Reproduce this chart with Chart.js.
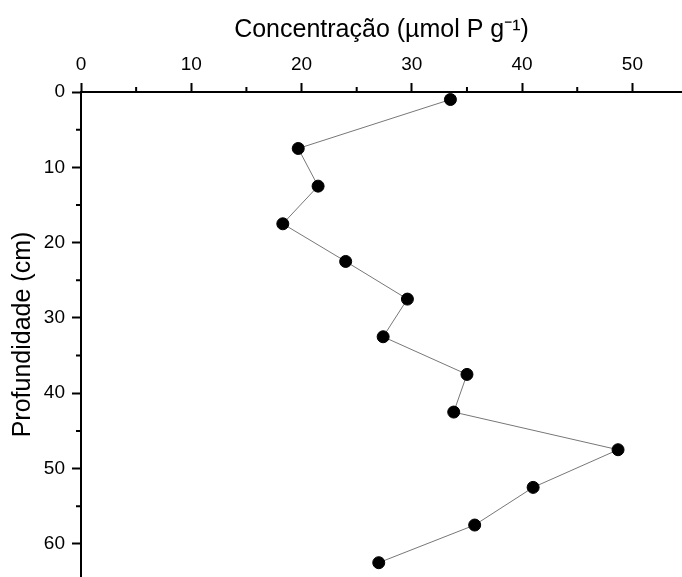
<!DOCTYPE html>
<html lang="pt">
  <head>
    <meta charset="UTF-8" />
    <script src="https://cdn.jsdelivr.net/npm/chart.js@4.4.0/dist/chart.umd.min.js"></script>
    <title>Concentração x Profundidade</title>
    <style>
      body {
        margin: 0;
        padding: 0;
        background: white;
      }

      .container {
        width: 682px;
        height: 577px;
      }
    </style>
  </head>
  <body>
    <div class="container">
      <canvas id="perfil"></canvas>
    </div>
    <script>
      const concentracao = [33.5, 19.7, 21.5, 18.3, 24.0, 29.6, 27.4, 35.0, 33.8, 48.7, 41.0, 35.7, 27.0]
      const profundidade = [1, 7.5, 12.5, 17.5, 22.5, 27.5, 32.5, 37.5, 42.5, 47.5, 52.5, 57.5, 62.5]
      const xMinorTicks = [5, 15, 25, 35, 45]
      const yMinorTicks = [5, 15, 25, 35, 45, 55]

      const fonte = 'Arial, "Liberation Sans", sans-serif'

      // minor ticks are shorter than the major ones
      const minorTicks = {
        id: 'minorTicks',
        afterDraw(chart) {
          const { ctx, scales, chartArea } = chart
          ctx.save()
          ctx.strokeStyle = '#000'
          ctx.lineWidth = 2
          ctx.beginPath()
          xMinorTicks.forEach((v) => {
            const px = scales.x.getPixelForValue(v)
            ctx.moveTo(px, chartArea.top)
            ctx.lineTo(px, chartArea.top - 5)
          })
          yMinorTicks.forEach((v) => {
            const py = scales.y.getPixelForValue(v)
            ctx.moveTo(chartArea.left, py)
            ctx.lineTo(chartArea.left - 5, py)
          })
          ctx.stroke()
          ctx.restore()
        },
      }

      const pontos = concentracao.map((c, i) => ({ x: c, y: profundidade[i] }))

      new Chart(document.getElementById('perfil'), {
        type: 'scatter',
        data: {
          datasets: [
            {
              data: pontos,
              showLine: true,
              borderColor: '#777777',
              borderWidth: 1,
              pointBackgroundColor: '#000',
              pointBorderColor: '#000',
              pointRadius: 6,
              pointHoverRadius: 6,
            },
          ],
        },
        options: {
          responsive: true,
          maintainAspectRatio: false,
          animation: false,
          layout: { padding: 0, autoPadding: false },
          plugins: {
            legend: { display: false },
            tooltip: { enabled: false },
          },
          scales: {
            x: {
              type: 'linear',
              position: 'top',
              min: 0,
              max: 54.5,
              afterFit: (scale) => {
                scale.height = 92
                scale.paddingLeft = 0
                scale.paddingRight = 0
              },
              ticks: {
                stepSize: 10,
                includeBounds: false,
                color: '#000',
                font: { family: fonte, size: 19 },
                padding: 7,
              },
              grid: {
                drawOnChartArea: false,
                drawTicks: true,
                tickLength: 9,
                tickWidth: 2,
                tickColor: '#000',
              },
              border: { color: '#000', width: 2 },
              title: {
                display: true,
                text: 'Concentração (µmol P g⁻¹)',
                color: '#000',
                font: { family: fonte, size: 25 },
                padding: { top: 15, bottom: 0 },
              },
            },
            y: {
              type: 'linear',
              reverse: true,
              min: 0,
              max: 64.4,
              afterFit: (scale) => {
                scale.width = 81
                scale.paddingTop = 0
                scale.paddingBottom = 0
              },
              ticks: {
                stepSize: 10,
                includeBounds: false,
                color: '#000',
                font: { family: fonte, size: 19 },
                padding: 7,
              },
              grid: {
                drawOnChartArea: false,
                drawTicks: true,
                tickLength: 9,
                tickWidth: 2,
                tickColor: '#000',
              },
              border: { color: '#000', width: 2 },
              title: {
                display: true,
                text: 'Profundidade (cm)',
                color: '#000',
                font: { family: fonte, size: 25 },
                padding: { top: 8, bottom: 0 },
              },
            },
          },
        },
        plugins: [minorTicks],
      })
    </script>
  </body>
</html>
